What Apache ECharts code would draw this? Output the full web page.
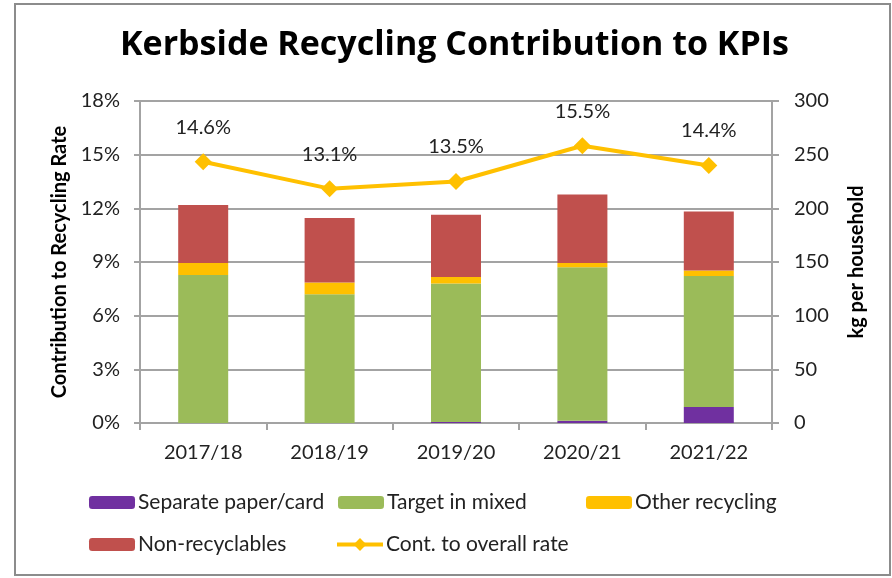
<!DOCTYPE html>
<html>
<head>
<meta charset="utf-8">
<script src="https://cdn.jsdelivr.net/npm/echarts@6/dist/echarts.min.js"></script>
<style>
  html, body { margin: 0; padding: 0; background: #fff; }
  #chartMain { width: 892px; height: 578px; }
</style>
</head>
<body>
<div id="chartMain"></div>
<script>
// years on the x axis
var years = ['2017/18', '2018/19', '2019/20', '2020/21', '2021/22'];

// kg per household (right axis), stacked
var separatePaper = [0, 0, 1, 2, 15];
var targetMixed = [138, 120, 129, 143, 122];
var otherRecycling = [11, 11, 6, 4, 5];
var nonRecyclables = [54, 60, 58, 64, 55];

// contribution to overall rate, % (left axis)
var contRate = [14.6, 13.1, 13.5, 15.5, 14.4];

var font = 'Lato, "Open Sans", sans-serif';
var gray = '#a3a3a3';

var myChart = echarts.init(document.getElementById('chartMain'));

function legendAt(item, left, top, h) {
    return {
        data: [item],
        left: left,
        top: top,
        itemWidth: 46,
        itemHeight: h || 13,
        selectedMode: false,
        textStyle: { fontFamily: font, fontSize: 21, color: '#222', padding: [0, 0, 0, -2] }
    };
}

myChart.setOption({
    animation: false,
    title: {
        text: 'Kerbside Recycling Contribution to KPIs',
        left: 115,
        top: 23,
        textStyle: { fontFamily: '"Open Sans", Lato, sans-serif', fontSize: 34, fontWeight: 'bold', color: '#000' }
    },
    graphic: [{
        type: 'rect',
        shape: { x: 15, y: 4, width: 875, height: 571 },
        style: { fill: 'none', stroke: '#8c8c8c', lineWidth: 2 },
        silent: true
    }],
    legend: [
        legendAt('Separate paper/card', 84, 487),
        legendAt('Target in mixed', 333, 487),
        legendAt('Other recycling', 581, 487),
        legendAt('Non-recyclables', 84, 529),
        legendAt({ name: 'Cont. to overall rate', lineStyle: { width: 4 } }, 330, 529, 16)
    ],
    grid: { left: 140, right: 120, top: 101, bottom: 155 },
    xAxis: {
        type: 'category',
        data: years,
        axisLine: { lineStyle: { color: gray, width: 2 } },
        axisTick: { show: true, length: 7, lineStyle: { color: gray, width: 2 } },
        axisLabel: { fontFamily: font, fontSize: 20, color: '#222', margin: 20 }
    },
    yAxis: [{
        type: 'value',
        min: 0, max: 18, interval: 3,
        name: 'Contribution to Recycling Rate',
        nameLocation: 'middle',
        nameGap: 70,
        nameTextStyle: { fontFamily: font, fontSize: 20, fontWeight: 'bold', color: '#000' },
        axisLine: { show: true, lineStyle: { color: gray, width: 2 } },
        axisTick: { show: true, length: 6, lineStyle: { color: gray, width: 2 } },
        axisLabel: { formatter: '{value}%', fontFamily: font, fontSize: 20, color: '#222', margin: 20 },
        splitLine: { lineStyle: { color: gray, width: 2 } }
    }, {
        type: 'value',
        min: 0, max: 300, interval: 50,
        name: 'kg per household',
        nameLocation: 'middle',
        nameGap: 75,
        nameRotate: 90,
        nameTextStyle: { fontFamily: font, fontSize: 20, fontWeight: 'bold', color: '#000' },
        axisLine: { show: true, lineStyle: { color: gray, width: 2 } },
        axisTick: { show: true, length: 7, lineStyle: { color: gray, width: 2 } },
        axisLabel: { fontFamily: font, fontSize: 20, color: '#222', margin: 22 },
        splitLine: { show: false }
    }],
    series: [{
        name: 'Separate paper/card', type: 'bar', stack: 'kg', yAxisIndex: 1,
        barWidth: 50, itemStyle: { color: '#7030A0' }, data: separatePaper
    }, {
        name: 'Target in mixed', type: 'bar', stack: 'kg', yAxisIndex: 1,
        barWidth: 50, itemStyle: { color: '#9BBB59' }, data: targetMixed
    }, {
        name: 'Other recycling', type: 'bar', stack: 'kg', yAxisIndex: 1,
        barWidth: 50, itemStyle: { color: '#FFC000' }, data: otherRecycling
    }, {
        name: 'Non-recyclables', type: 'bar', stack: 'kg', yAxisIndex: 1,
        barWidth: 50, itemStyle: { color: '#C0504D' }, data: nonRecyclables
    }, {
        name: 'Cont. to overall rate', type: 'line', yAxisIndex: 0,
        symbol: 'diamond', symbolSize: 17,
        lineStyle: { color: '#FFC000', width: 4 },
        itemStyle: { color: '#FFC000' },
        label: {
            show: true, position: 'top', distance: 16,
            formatter: '{c}%', fontFamily: font, fontSize: 20, color: '#222'
        },
        data: contRate
    }]
});
</script>
</body>
</html>
